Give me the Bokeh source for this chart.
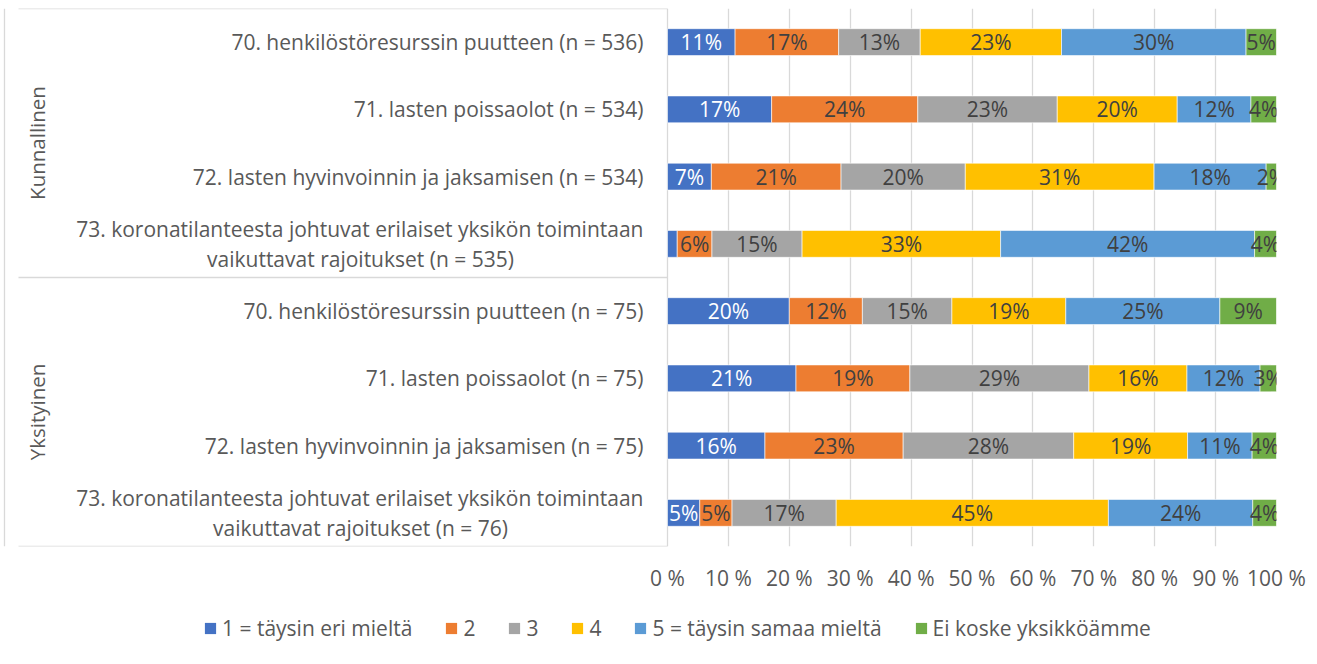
import numpy as np
from bokeh.plotting import figure
from bokeh.layouts import column
from bokeh.models import (Range1d, FixedTicker, PrintfTickFormatter, Legend,
                          LegendItem, ColumnDataSource)
from bokeh.core.properties import value
from bokeh.embed import file_html
from bokeh.resources import INLINE

# ---------------- data ----------------
groups = ["Kunnallinen", "Yksityinen"]
group_sizes = [4, 4]
items = [
    "70. henkilöstöresurssin puutteen (n = 536)",
    "71. lasten poissaolot (n = 534)",
    "72. lasten hyvinvoinnin ja jaksamisen (n = 534)",
    "73. koronatilanteesta johtuvat erilaiset yksikön toimintaan\nvaikuttavat rajoitukset (n = 535)",
    "70. henkilöstöresurssin puutteen (n = 75)",
    "71. lasten poissaolot (n = 75)",
    "72. lasten hyvinvoinnin ja jaksamisen (n = 75)",
    "73. koronatilanteesta johtuvat erilaiset yksikön toimintaan\nvaikuttavat rajoitukset (n = 76)",
]
series_names = ["1 = täysin eri mieltä", "2", "3", "4",
                "5 = täysin samaa mieltä", "Ei koske yksikköämme"]
s1 = [11.1, 17.1, 7.2, 1.6, 20.0, 21.1, 16.0, 5.3]
s2 = [17.0, 24.0, 21.3, 5.7, 12.0, 18.7, 22.7, 5.3]
s3 = [13.4, 22.9, 20.4, 14.8, 14.7, 29.4, 28.0, 17.1]
s4 = [23.2, 19.7, 31.0, 32.6, 18.7, 16.1, 18.7, 44.7]
s5 = [30.3, 12.1, 18.4, 41.7, 25.3, 12.0, 10.6, 23.7]
s6 = [5.0, 4.2, 1.7, 3.6, 9.3, 2.7, 4.0, 3.9]
hidden_labels = [(3, 0)]  # (row, series) with no data label
x_ticks = [0, 10, 20, 30, 40, 50, 60, 70, 80, 90, 100]

# ---------------- style ----------------
colors = ["#4472C4", "#ED7D31", "#A5A5A5", "#FFC000", "#5B9BD5", "#70AD47"]
label_colors = ["#FFFFFF", "#404040", "#404040", "#404040", "#404040", "#404040"]
FONT = "Open Sans"
FS = "21px"
GFS = "20.5px"
TXT = "#595959"
GRID = "#D9D9D9"

W_FIG, H_FIG = 1310, 600
H_LEG = 58
TOP_PX = 8         # figure top to frame top
LEFT_PX = 667      # frame-left to 0 %
BAR_PX = 609       # 0 % to 100 %
FRAME_H = 538
x_start = -LEFT_PX / BAR_PX * 100.0
px = 100.0 / BAR_PX  # data units per pixel (x)

n_rows = len(items)
p = figure(width=W_FIG, height=H_FIG, output_backend="svg", toolbar_location=None,
           x_range=Range1d(x_start, 100), y_range=Range1d(n_rows - 0.5, -0.5),
           min_border_left=0, min_border_right=W_FIG - LEFT_PX - BAR_PX,
           min_border_top=TOP_PX, min_border_bottom=H_FIG - FRAME_H - TOP_PX,
           y_axis_location=None)
p.outline_line_color = None
p.background_fill_color = "white"
p.border_fill_color = "white"
p.ygrid.visible = False
p.xgrid.ticker = FixedTicker(ticks=x_ticks)
p.xgrid.grid_line_color = GRID
p.xgrid.grid_line_width = 1.3

ax = p.xaxis[0]
ax.ticker = FixedTicker(ticks=x_ticks)
ax.formatter = PrintfTickFormatter(format="%d %%")
ax.axis_line_color = None
ax.major_tick_line_color = None
ax.minor_tick_line_color = None
ax.major_tick_out = 0
ax.major_tick_in = 0
ax.major_label_standoff = 17
ax.major_label_text_font = FONT
ax.major_label_text_font_size = FS
ax.major_label_text_color = TXT

# ---------------- bars ----------------
vals = np.array([s1, s2, s3, s4, s5, s6], dtype=float)
rows = np.arange(n_rows)
cum = np.cumsum(vals, axis=0)
lefts = cum - vals
for i in range(len(series_names)):
    p.hbar(y=rows, left=lefts[i], right=cum[i], height=0.4,
           fill_color=colors[i], line_color="white", line_width=0.6)

# data labels
lx, ly, lt, lc = [], [], [], []
for i in range(len(series_names)):
    for j in range(n_rows):
        if (j, i) in hidden_labels:
            continue
        lx.append(lefts[i][j] + vals[i][j] / 2.0)
        ly.append(j)
        lt.append(f"{int(round(vals[i][j]))}%")
        lc.append(label_colors[i])
p.text(x="x", y="y", text="t", text_color="c",
       source=ColumnDataSource(dict(x=lx, y=ly, t=lt, c=lc)),
       text_align="center", text_baseline="middle",
       text_font=value(FONT), text_font_size=FS)

# category labels
for j, name in enumerate(items):
    parts = name.split("\n")
    if len(parts) == 1:
        p.text(x=[0], y=[j], text=[name], x_offset=-24, text_align="right",
               text_baseline="middle", text_font=value(FONT), text_font_size=FS,
               text_color=TXT)
    else:
        p.text(x=[0], y=[j], text=[parts[0]], x_offset=-24, y_offset=-15,
               text_align="right", text_baseline="middle", text_font=value(FONT),
               text_font_size=FS, text_color=TXT)
        p.text(x=[0], y=[j], text=[parts[1]], x_offset=-307, y_offset=15,
               text_align="center", text_baseline="middle", text_font=value(FONT),
               text_font_size=FS, text_color=TXT)

# group labels and separators
bounds = np.concatenate([[0], np.cumsum(group_sizes)]) - 0.5
centers = (bounds[:-1] + bounds[1:]) / 2.0
p.text(x=[x_start + 36 * px] * len(groups), y=list(centers), text=groups,
       angle=np.pi / 2, text_align="center", text_baseline="middle",
       text_font=value(FONT), text_font_size=GFS, text_color=TXT)
p.segment(x0=[x_start + 18 * px] * len(bounds), x1=[0] * len(bounds),
          y0=list(bounds), y1=list(bounds), line_color=GRID, line_width=1.5)
# chart-area left border
p.segment(x0=[x_start + 4 * px], x1=[x_start + 4 * px], y0=[bounds[0]], y1=[bounds[-1]],
          line_color=GRID, line_width=1.3)

# ---------------- legend strip ----------------
# swatch renderers carry the same bar data but are hidden; only the legend shows
pl = figure(width=W_FIG, height=H_LEG, output_backend="svg", toolbar_location=None,
            x_range=Range1d(0, 100), y_range=Range1d(-0.5, n_rows - 0.5),
            x_axis_location=None, y_axis_location=None,
            min_border_left=0, min_border_right=0, min_border_top=0, min_border_bottom=0)
pl.outline_line_color = None
pl.grid.visible = False
pl.background_fill_color = "white"
pl.border_fill_color = "white"
leg_r = []
for i in range(len(series_names)):
    r = pl.hbar(y=rows, left=lefts[i], right=cum[i], height=0.4, fill_color=colors[i],
                line_color=None)
    r.visible = False
    leg_r.append(r)
legend = Legend(items=[LegendItem(label=n, renderers=[r])
                       for n, r in zip(series_names, leg_r)],
                orientation="horizontal", location=(203, 16),
                glyph_width=14, glyph_height=14, label_height=24, label_width=0,
                label_standoff=5, spacing=32, padding=0, margin=0,
                border_line_color=None, background_fill_alpha=0,
                inactive_fill_alpha=0,
                label_text_font=FONT, label_text_font_size=FS,
                label_text_color=TXT)
pl.add_layout(legend, "center")

layout = column(p, pl, spacing=0)
open("out.html", "w").write(file_html(layout, INLINE))
